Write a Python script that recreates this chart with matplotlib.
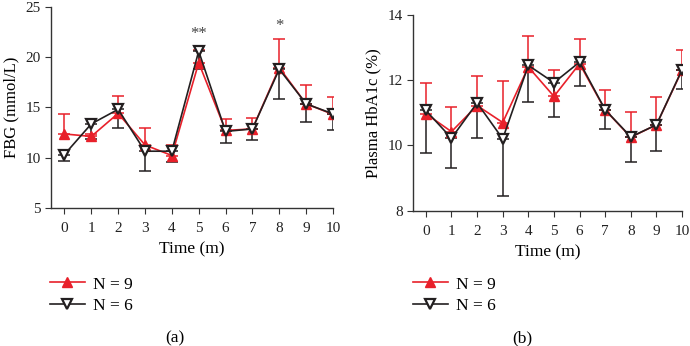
import numpy as np
import matplotlib
matplotlib.use("Agg")
import matplotlib.pyplot as plt

plt.rcParams['font.family'] = ['Liberation Serif', 'DejaVu Serif']

# time points
t = np.arange(0, 11)

# (a) FBG (mmol/L)
fbg_n9 = [12.35, 12.1, 14.4, 11.25, 10.2, 19.45, 12.7, 12.85, 18.95, 15.35, 14.3]
fbg_n9_err = [2.0, 0.2, 1.7, 1.65, 1.0, 1.3, 1.15, 1.1, 2.9, 1.9, 1.7]
fbg_n6 = [10.3, 13.35, 14.8, 10.63, 10.63, 20.6, 12.6, 12.85, 18.8, 15.35, 14.35]
fbg_n6_err = [0.67, 1.55, 1.85, 2.0, 1.08, 1.8, 1.15, 1.15, 3.0, 1.85, 1.65]

# (b) Plasma HbA1c (%)
hba_n9 = [10.97, 10.42, 11.22, 10.7, 12.4, 11.5, 12.5, 11.08, 10.25, 10.63, 12.3]
hba_n9_err = [0.95, 0.77, 0.9, 1.27, 0.95, 0.82, 0.75, 0.62, 0.77, 0.85, 0.63]
hba_n6 = [11.07, 10.22, 11.3, 10.2, 12.45, 11.92, 12.55, 11.09, 10.26, 10.63, 12.32]
hba_n6_err = [1.3, 0.91, 1.08, 1.74, 1.13, 1.05, 0.73, 0.6, 0.77, 0.81, 0.6]

red = '#e8202a'
blk = '#231f20'
zeros = [0] * len(t)


def panel(ax, y9, e9, y6, e6):
    ax.errorbar(t, y9, yerr=[zeros, e9], fmt='none', ecolor=red, elinewidth=1.1, capsize=4, capthick=1.1, zorder=2)
    ax.errorbar(t, y6, yerr=[e6, zeros], fmt='none', ecolor=blk, elinewidth=1.1, capsize=4, capthick=1.1, zorder=3)
    l9, = ax.plot(t, y9, color=red, lw=1.2, marker='^', ms=7, mfc=red, mec=red, label='N = 9', zorder=4)
    l6, = ax.plot(t, y6, color=blk, lw=1.2, marker='v', ms=6.5, mfc='white', mec=blk, mew=1.6, label='N = 6', zorder=5)
    ax.spines['top'].set_visible(False)
    ax.spines['right'].set_visible(False)
    for s in ['left', 'bottom']:
        ax.spines[s].set_color('#333333')
        ax.spines[s].set_linewidth(1.0)
    ax.set_xlim(-0.5, 10)
    ax.set_xticks(t)
    ax.tick_params(direction='out', length=4, labelsize=11, colors='#333333', labelcolor='#222222')
    ax.tick_params(axis='x', pad=6)
    ax.set_xlabel('Time (m)', fontsize=12.5, labelpad=5)
    return l9, l6


fig = plt.figure(figsize=(6.9, 3.46), dpi=100)

ax0 = fig.add_axes([0.0739, 0.3997, 0.4087, 0.5801])
h = panel(ax0, fbg_n9, fbg_n9_err, fbg_n6, fbg_n6_err)
ax0.set_ylim(5, 25)
ax0.set_yticks([5, 10, 15, 20, 25])
ax0.set_ylabel('FBG (mmol/L)', fontsize=12)
ax0.text(5, 21.5, '**', ha='center', va='bottom', fontsize=12, color='#444444')
ax0.text(8, 22.3, '*', ha='center', va='bottom', fontsize=12, color='#444444')
ax0.legend(handles=h, loc='center left', bbox_to_anchor=(0.0725, 0.147), bbox_transform=fig.transFigure,
           frameon=False, fontsize=12.5, handlelength=2.0, labelspacing=0.3, handletextpad=0.5,
           borderpad=0, borderaxespad=0)
fig.text(0.254, 0.023, '(a)', ha='center', va='center', fontsize=12.5)

ax1 = fig.add_axes([0.5986, 0.391, 0.3899, 0.5665])
h = panel(ax1, hba_n9, hba_n9_err, hba_n6, hba_n6_err)
ax1.set_ylim(8, 14)
ax1.set_yticks([8, 10, 12, 14])
ax1.set_ylabel('Plasma HbA1c (%)', fontsize=12)
ax1.legend(handles=h, loc='center left', bbox_to_anchor=(0.5986, 0.147), bbox_transform=fig.transFigure,
           frameon=False, fontsize=12.5, handlelength=2.0, labelspacing=0.3, handletextpad=0.5,
           borderpad=0, borderaxespad=0)
fig.text(0.757, 0.023, '(b)', ha='center', va='center', fontsize=12.5)

fig.savefig('out.png', dpi=100)
